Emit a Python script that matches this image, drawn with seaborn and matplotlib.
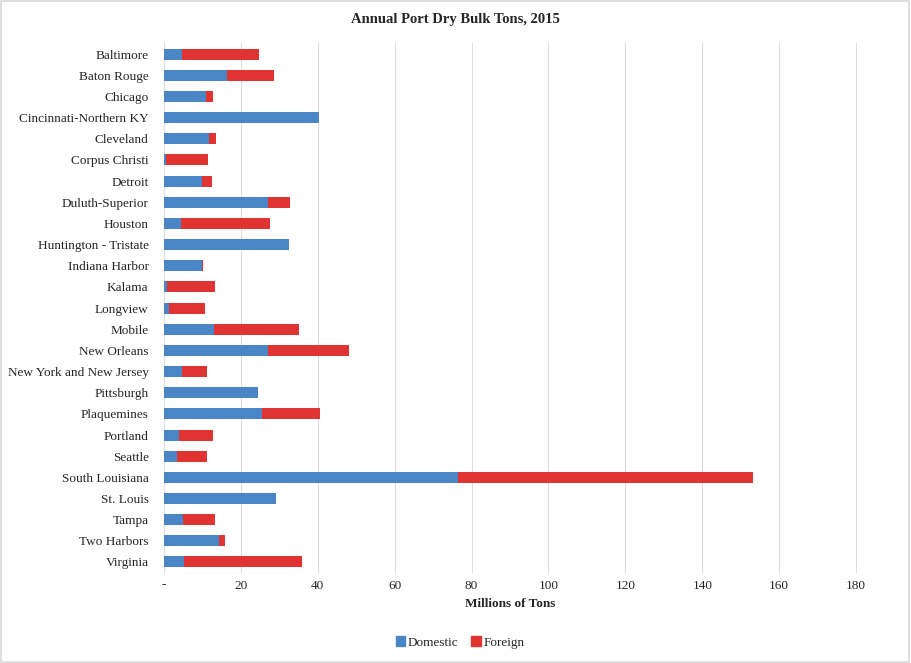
import matplotlib
matplotlib.use("Agg")
import matplotlib.pyplot as plt
import seaborn as sns
import pandas as pd
from matplotlib.patches import Patch

# Havens en tonnages (miljoenen tonnen)
havens = ["Baltimore", "Baton Rouge", "Chicago", "Cincinnati-Northern KY", "Cleveland",
          "Corpus Christi", "Detroit", "Duluth-Superior", "Houston", "Huntington - Tristate",
          "Indiana Harbor", "Kalama", "Longview", "Mobile", "New Orleans",
          "New York and New Jersey", "Pittsburgh", "Plaquemines", "Portland", "Seattle",
          "South Louisiana", "St. Louis", "Tampa", "Two Harbors", "Virginia"]
domestic = [4.6, 16.3, 10.9, 40.2, 11.7, 0.6, 9.9, 27.0, 4.4, 32.4,
            9.9, 0.8, 1.3, 13.0, 27.0, 4.6, 24.4, 25.5, 3.9, 3.4,
            76.5, 29.1, 4.9, 14.3, 5.2]
foreign = [20.2, 12.3, 1.8, 0.0, 1.8, 10.8, 2.6, 5.7, 23.3, 0.0,
           0.3, 12.4, 9.4, 22.1, 21.1, 6.6, 0.0, 15.0, 8.8, 7.8,
           76.8, 0.0, 8.3, 1.5, 30.8]
x_ticks = [0, 20, 40, 60, 80, 100, 120, 140, 160, 180]
x_ticklabels = ["-", "20", "40", "60", "80", "100", "120", "140", "160", "180"]

df = pd.DataFrame({"Haven": havens, "Domestic": domestic, "Foreign": foreign})
df["Totaal"] = df["Domestic"] + df["Foreign"]

blauw = "#4A86C6"
rood = "#E03432"

sns.set_style("white")
plt.rcParams["font.family"] = ["Liberation Serif", "DejaVu Serif"]

fig = plt.figure(figsize=(9.11, 6.63), dpi=100)
ax = fig.add_axes([0.18, 0.1364, 0.761, 0.798])

# Eerst het totaal (rood), daarna binnenlands (blauw) eroverheen
sns.barplot(data=df, y="Haven", x="Totaal", color=rood, width=0.52, ax=ax,
            saturation=1, linewidth=0)
sns.barplot(data=df, y="Haven", x="Domestic", color=blauw, width=0.52, ax=ax,
            saturation=1, linewidth=0)

ax.set_xlim(0, 180.3)
ax.set_xticks(x_ticks)
ax.set_xticklabels(x_ticklabels, fontsize=9.5)
ax.tick_params(axis="y", labelsize=9.5, length=0, pad=11)
ax.tick_params(axis="x", length=0, pad=5)
ax.xaxis.grid(True, color="#DCDCDC", linewidth=0.8)
ax.set_axisbelow(True)
for s in ax.spines.values():
    s.set_visible(False)
ax.set_ylabel("")
ax.set_xlabel("Millions of Tons", fontsize=9.5, fontweight="bold", labelpad=5)

fig.suptitle("Annual Port Dry Bulk Tons, 2015", fontsize=10.5, fontweight="bold", y=0.98)

handles = [Patch(color=blauw, label="Domestic"), Patch(color=rood, label="Foreign")]
fig.legend(handles=handles, loc="center", bbox_to_anchor=(0.505, 0.031), ncol=2,
           frameon=False, fontsize=9.5, handlelength=0.7, handleheight=0.7,
           handletextpad=0.2, columnspacing=1.0)

# Lichtgrijze rand rond de hele figuur
fig.patches.append(plt.Rectangle((0.001, 0.001), 0.997, 0.997, transform=fig.transFigure,
                                 fill=False, edgecolor="#D9D9D9", linewidth=1.2))

fig.savefig("out.png", dpi=100)
